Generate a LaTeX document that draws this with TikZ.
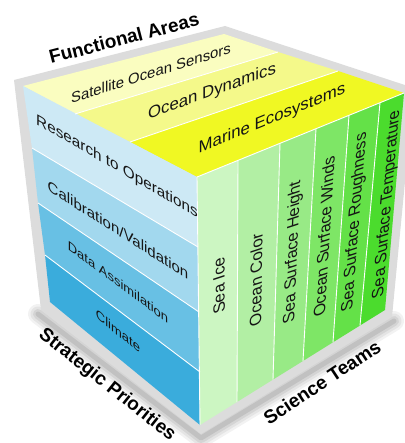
\documentclass[tikz,border=0pt]{standalone}
\usepackage{fontspec}
\setmainfont{Liberation Sans}
\definecolor{ySat}{HTML}{FAFDC0}
\definecolor{yDyn}{HTML}{F4F98A}
\definecolor{yMar}{HTML}{F0F823}
\definecolor{bRes}{HTML}{CDE9F5}
\definecolor{bCal}{HTML}{A2D8EE}
\definecolor{bDat}{HTML}{68C0E4}
\definecolor{bCli}{HTML}{3AACDC}
\definecolor{gIce}{HTML}{CCF6C2}
\definecolor{gCol}{HTML}{B2EFA4}
\definecolor{gHei}{HTML}{98EA86}
\definecolor{gWin}{HTML}{7EE666}
\definecolor{gRou}{HTML}{64E148}
\definecolor{gTem}{HTML}{4BDC2D}
\definecolor{frameGrey}{HTML}{DCDCDC}
\definecolor{ink}{HTML}{151515}
\begin{document}
\begin{tikzpicture}[x=1pt,y=-1pt,
  divider/.style={draw=white, line width=0.9pt},
  facetext/.style={text=ink, inner sep=0pt},
  title/.style={text=black, inner sep=0pt, font=\fontsize{19}{21}\selectfont\bfseries},
  rightlabel/.style={facetext, font=\fontsize{16.4}{18}\selectfont}]
\useasboundingbox (0,0) rectangle (404,443);
% cube corners
\coordinate (L) at (23,86);
\coordinate (B) at (224,34);
\coordinate (R) at (404,93);
\coordinate (F) at (197,177);
\coordinate (Lb) at (50,302);
\coordinate (Fb) at (200,425);
\coordinate (Rb) at (385,310);
% top dividers
\coordinate (T1l) at (75,114);  \coordinate (T1r) at (278,52);
\coordinate (T2l) at (130,142); \coordinate (T2r) at (338,71);
% left dividers
\coordinate (S1l) at (32,148);  \coordinate (S1r) at (198,247);
\coordinate (S2l) at (38,203);  \coordinate (S2r) at (199,312);
\coordinate (S3l) at (45,255);  \coordinate (S3r) at (200,372);
% right dividers
\coordinate (V1t) at (238,160.4); \coordinate (V1b) at (237,402);
\coordinate (V2t) at (280,143.3); \coordinate (V2b) at (273,379.6);
\coordinate (V3t) at (316,128.7); \coordinate (V3b) at (303,361);
\coordinate (V4t) at (349,115.3); \coordinate (V4b) at (333,342.3);
\coordinate (V5t) at (380,102.7); \coordinate (V5b) at (360,325.5);
% frame corners
\coordinate (fB) at (225,26);
\coordinate (fR) at (414,88);
\coordinate (fRb) at (392,317);
\coordinate (fFb) at (201,434);
\coordinate (fLb) at (41,310);
\coordinate (fL) at (14,80);
% soft shadow
\foreach \w/\o in {20/0.05, 15/0.06, 10/0.07, 5/0.09}
  \draw[line width=\w pt, opacity=\o, line join=round, line cap=round]
    (38,314) -- (201,438) -- (394,321);
% grey frame
\fill[frameGrey] (fB) -- (fR) -- (fRb) -- (fFb) -- (fLb) -- (fL) -- cycle;
% top face
\fill[ySat] (L) -- (B) -- (T1r) -- (T1l) -- cycle;
\fill[yDyn] (T1l) -- (T1r) -- (T2r) -- (T2l) -- cycle;
\fill[yMar] (T2l) -- (T2r) -- (R) -- (F) -- cycle;
% left face
\fill[bRes] (L) -- (F) -- (S1r) -- (S1l) -- cycle;
\fill[bCal] (S1l) -- (S1r) -- (S2r) -- (S2l) -- cycle;
\fill[bDat] (S2l) -- (S2r) -- (S3r) -- (S3l) -- cycle;
\fill[bCli] (S3l) -- (S3r) -- (Fb) -- (Lb) -- cycle;
% right face
\fill[gIce] (F) -- (V1t) -- (V1b) -- (Fb) -- cycle;
\fill[gCol] (V1t) -- (V2t) -- (V2b) -- (V1b) -- cycle;
\fill[gHei] (V2t) -- (V3t) -- (V3b) -- (V2b) -- cycle;
\fill[gWin] (V3t) -- (V4t) -- (V4b) -- (V3b) -- cycle;
\fill[gRou] (V4t) -- (V5t) -- (V5b) -- (V4b) -- cycle;
\fill[gTem] (V5t) -- (R) -- (Rb) -- (V5b) -- cycle;
% dividers
\draw[divider] (T1l) -- (T1r);
\draw[divider] (T2l) -- (T2r);
\draw[divider] (S1l) -- (S1r);
\draw[divider] (S2l) -- (S2r);
\draw[divider] (S3l) -- (S3r);
\draw[divider] (V1t) -- (V1b);
\draw[divider] (V2t) -- (V2b);
\draw[divider] (V3t) -- (V3b);
\draw[divider] (V4t) -- (V4b);
\draw[divider] (V5t) -- (V5b);
\draw[divider] (F) -- (R);
\draw[divider] (F) -- (Fb);
% top face labels
\node[facetext, font=\fontsize{14.9}{16}\selectfont, yslant=0.31] (sat) at (151,73) {Satellite Ocean Sensors};
\node[facetext, font=\fontsize{16.8}{18}\selectfont, yslant=0.36] (dyn) at (212,92) {Ocean Dynamics};
\node[facetext, font=\fontsize{16.8}{18}\selectfont, yslant=0.41] (mar) at (272,119) {Marine Ecosystems};
% left face labels
\node[facetext, font=\fontsize{15.3}{17}\selectfont, yslant=-0.58] (res) at (117,167) {Research to Operations};
\node[facetext, font=\fontsize{15}{17}\selectfont, yslant=-0.635] (cal) at (118,230) {Calibration/Validation};
\node[facetext, font=\fontsize{13}{15}\selectfont, yslant=-0.74] (dat) at (118,282) {Data Assimilation};
\node[facetext, font=\fontsize{13}{15}\selectfont, yslant=-0.82] (cli) at (118,331) {Climate};
% right face labels
\node[rightlabel, cm={-0.004,1,-1.0,-0.33,(0,0)}] (ice) at (219,286) {Sea Ice};
\node[rightlabel, cm={0.017,1,-1.0,-0.33,(0,0)}] (col) at (256,280) {Ocean Color};
\node[rightlabel, cm={0.043,1,-1.0,-0.33,(0,0)}] (hei) at (293,252) {Sea Surface Height};
\node[rightlabel, cm={0.063,1,-1.0,-0.33,(0,0)}] (win) at (324,237) {Ocean Surface Winds};
\node[rightlabel, cm={0.08,1,-1.0,-0.33,(0,0)}] (rou) at (355,222) {Sea Surface Roughness};
\node[rightlabel, cm={0.089,1,-1.0,-0.33,(0,0)}] (tem) at (387,204) {Sea Surface Temperature};
% titles
\node[title, rotate=14.5] (fa) at (124,38) {Functional Areas};
\node[title, rotate=-38.5] (sp) at (107,385) {Strategic Priorities};
\node[title, rotate=33.5] (st) at (322,382) {Science Teams};
\end{tikzpicture}
\end{document}
